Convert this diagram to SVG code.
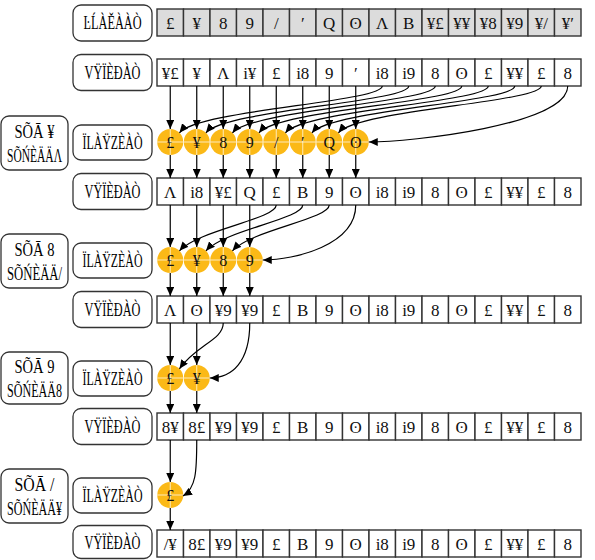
<svg xmlns="http://www.w3.org/2000/svg" width="595" height="560" viewBox="0 0 595 560">
<defs>
<marker id="ah" markerWidth="9" markerHeight="8" refX="9" refY="4" orient="auto" markerUnits="userSpaceOnUse"><path d="M0,0 L9,4 L0,8 Z" fill="#000"/></marker>
<style>
.cell{fill:#fff;stroke:#333;stroke-width:1.4}
.hcell{fill:#dcdcdc;stroke:#333;stroke-width:1.4}
.lbl{fill:#fff;stroke:#333;stroke-width:1.3}
.ct{font-family:"Liberation Serif","DejaVu Serif",serif;font-size:17px;text-anchor:middle;fill:#111}
.lt{font-family:"Liberation Serif","DejaVu Serif",serif;font-size:18px;text-anchor:middle;fill:#000}
.thr{fill:#FBB917}
.cross{stroke:#fff;stroke-opacity:0.7;stroke-width:1}
.tt{font-family:"Liberation Serif","DejaVu Serif",serif;font-size:16px;text-anchor:middle;fill:#111}
.ar{fill:none;stroke:#000;stroke-width:1.2;marker-end:url(#ah)}
</style>
</defs>

<!-- Index row -->
<g id="label-index"><rect class="lbl" x="73" y="5" width="79" height="36" rx="8"/><text class="lt" x="112.5" y="29" textLength="58" lengthAdjust="spacingAndGlyphs">ĿĹÀĚÀÀÒ</text></g>
<g id="row-index">
<rect class="hcell" x="157" y="9" width="26.5" height="27"/><rect class="hcell" x="183.5" y="9" width="26.5" height="27"/><rect class="hcell" x="210" y="9" width="26.5" height="27"/><rect class="hcell" x="236.5" y="9" width="26.5" height="27"/><rect class="hcell" x="263" y="9" width="26.5" height="27"/><rect class="hcell" x="289.5" y="9" width="26.5" height="27"/><rect class="hcell" x="316" y="9" width="26.5" height="27"/><rect class="hcell" x="342.5" y="9" width="26.5" height="27"/><rect class="hcell" x="369" y="9" width="26.5" height="27"/><rect class="hcell" x="395.5" y="9" width="26.5" height="27"/><rect class="hcell" x="422" y="9" width="26.5" height="27"/><rect class="hcell" x="448.5" y="9" width="26.5" height="27"/><rect class="hcell" x="475" y="9" width="26.5" height="27"/><rect class="hcell" x="501.5" y="9" width="26.5" height="27"/><rect class="hcell" x="528" y="9" width="26.5" height="27"/><rect class="hcell" x="554.5" y="9" width="26.5" height="27"/>
<text class="ct" x="170.25" y="28.5">£</text><text class="ct" x="196.75" y="28.5">¥</text><text class="ct" x="223.25" y="28.5">8</text><text class="ct" x="249.75" y="28.5">9</text><text class="ct" x="276.25" y="28.5">/</text><text class="ct" x="302.75" y="28.5">′</text><text class="ct" x="329.25" y="28.5">Q</text><text class="ct" x="355.75" y="28.5">ʘ</text><text class="ct" x="382.25" y="28.5">Λ</text><text class="ct" x="408.75" y="28.5">B</text><text class="ct" x="435.25" y="28.5">¥£</text><text class="ct" x="461.75" y="28.5">¥¥</text><text class="ct" x="488.25" y="28.5">¥8</text><text class="ct" x="514.75" y="28.5">¥9</text><text class="ct" x="541.25" y="28.5">¥/</text><text class="ct" x="567.75" y="28.5">¥′</text>
</g>

<!-- Values row 1 -->
<g id="label-values1"><rect class="lbl" x="73" y="54.5" width="79" height="36" rx="8"/><text class="lt" x="112.5" y="79" textLength="56" lengthAdjust="spacingAndGlyphs">VŸÏÈÐÀÒ</text></g>
<g id="row-values1">
<rect class="cell" x="157" y="59" width="26.5" height="27"/><rect class="cell" x="183.5" y="59" width="26.5" height="27"/><rect class="cell" x="210" y="59" width="26.5" height="27"/><rect class="cell" x="236.5" y="59" width="26.5" height="27"/><rect class="cell" x="263" y="59" width="26.5" height="27"/><rect class="cell" x="289.5" y="59" width="26.5" height="27"/><rect class="cell" x="316" y="59" width="26.5" height="27"/><rect class="cell" x="342.5" y="59" width="26.5" height="27"/><rect class="cell" x="369" y="59" width="26.5" height="27"/><rect class="cell" x="395.5" y="59" width="26.5" height="27"/><rect class="cell" x="422" y="59" width="26.5" height="27"/><rect class="cell" x="448.5" y="59" width="26.5" height="27"/><rect class="cell" x="475" y="59" width="26.5" height="27"/><rect class="cell" x="501.5" y="59" width="26.5" height="27"/><rect class="cell" x="528" y="59" width="26.5" height="27"/><rect class="cell" x="554.5" y="59" width="26.5" height="27"/>
<text class="ct" x="170.25" y="78.5">¥£</text><text class="ct" x="196.75" y="78.5">¥</text><text class="ct" x="223.25" y="78.5">Λ</text><text class="ct" x="249.75" y="78.5">i¥</text><text class="ct" x="276.25" y="78.5">£</text><text class="ct" x="302.75" y="78.5">i8</text><text class="ct" x="329.25" y="78.5">9</text><text class="ct" x="355.75" y="78.5">′</text><text class="ct" x="382.25" y="78.5">i8</text><text class="ct" x="408.75" y="78.5">i9</text><text class="ct" x="435.25" y="78.5">8</text><text class="ct" x="461.75" y="78.5">ʘ</text><text class="ct" x="488.25" y="78.5">£</text><text class="ct" x="514.75" y="78.5">¥¥</text><text class="ct" x="541.25" y="78.5">£</text><text class="ct" x="567.75" y="78.5">8</text>
</g>

<!-- Step 1 -->
<g id="step1"><rect class="lbl" x="1" y="116" width="67" height="54" rx="8"/><text class="lt" x="34.5" y="138" textLength="40" lengthAdjust="spacingAndGlyphs">SÕĀ ¥</text><text class="lt" x="34.5" y="162" textLength="55" lengthAdjust="spacingAndGlyphs">SÕŃÈÄÄΛ</text></g>
<g id="label-threads1"><rect class="lbl" x="73" y="125" width="79" height="35" rx="8"/><text class="lt" x="112.5" y="148.5" textLength="60" lengthAdjust="spacingAndGlyphs">ÏLÀŸZÈÀÒ</text></g>
<g id="threads1">
<circle class="thr" cx="170.25" cy="142" r="13"/><circle class="thr" cx="196.75" cy="142" r="13"/><circle class="thr" cx="223.25" cy="142" r="13"/><circle class="thr" cx="249.75" cy="142" r="13"/><circle class="thr" cx="276.25" cy="142" r="13"/><circle class="thr" cx="302.75" cy="142" r="13"/><circle class="thr" cx="329.25" cy="142" r="13"/><circle class="thr" cx="355.75" cy="142" r="13"/>
<path class="cross" d="M157.25 142H368.75M170.25 129V155M196.75 129V155M223.25 129V155M249.75 129V155M276.25 129V155M302.75 129V155M329.25 129V155M355.75 129V155"/>
<text class="tt" x="170.25" y="147.5">£</text><text class="tt" x="196.75" y="147.5">¥</text><text class="tt" x="223.25" y="147.5">8</text><text class="tt" x="249.75" y="147.5">9</text><text class="tt" x="276.25" y="147.5">/</text><text class="tt" x="302.75" y="147.5">′</text><text class="tt" x="329.25" y="147.5">Q</text><text class="tt" x="355.75" y="147.5">ʘ</text>
</g>

<!-- Values row 2 -->
<g id="label-values2"><rect class="lbl" x="73" y="173.5" width="79" height="36" rx="8"/><text class="lt" x="112.5" y="198" textLength="56" lengthAdjust="spacingAndGlyphs">VŸÏÈÐÀÒ</text></g>
<g id="row-values2">
<rect class="cell" x="157" y="178" width="26.5" height="27"/><rect class="cell" x="183.5" y="178" width="26.5" height="27"/><rect class="cell" x="210" y="178" width="26.5" height="27"/><rect class="cell" x="236.5" y="178" width="26.5" height="27"/><rect class="cell" x="263" y="178" width="26.5" height="27"/><rect class="cell" x="289.5" y="178" width="26.5" height="27"/><rect class="cell" x="316" y="178" width="26.5" height="27"/><rect class="cell" x="342.5" y="178" width="26.5" height="27"/><rect class="cell" x="369" y="178" width="26.5" height="27"/><rect class="cell" x="395.5" y="178" width="26.5" height="27"/><rect class="cell" x="422" y="178" width="26.5" height="27"/><rect class="cell" x="448.5" y="178" width="26.5" height="27"/><rect class="cell" x="475" y="178" width="26.5" height="27"/><rect class="cell" x="501.5" y="178" width="26.5" height="27"/><rect class="cell" x="528" y="178" width="26.5" height="27"/><rect class="cell" x="554.5" y="178" width="26.5" height="27"/>
<text class="ct" x="170.25" y="197.5">Λ</text><text class="ct" x="196.75" y="197.5">i8</text><text class="ct" x="223.25" y="197.5">¥£</text><text class="ct" x="249.75" y="197.5">Q</text><text class="ct" x="276.25" y="197.5">£</text><text class="ct" x="302.75" y="197.5">B</text><text class="ct" x="329.25" y="197.5">9</text><text class="ct" x="355.75" y="197.5">ʘ</text><text class="ct" x="382.25" y="197.5">i8</text><text class="ct" x="408.75" y="197.5">i9</text><text class="ct" x="435.25" y="197.5">8</text><text class="ct" x="461.75" y="197.5">ʘ</text><text class="ct" x="488.25" y="197.5">£</text><text class="ct" x="514.75" y="197.5">¥¥</text><text class="ct" x="541.25" y="197.5">£</text><text class="ct" x="567.75" y="197.5">8</text>
</g>

<!-- Step 2 -->
<g id="step2"><rect class="lbl" x="1" y="234" width="67" height="54" rx="8"/><text class="lt" x="34.5" y="256" textLength="40" lengthAdjust="spacingAndGlyphs">SÕĀ 8</text><text class="lt" x="34.5" y="280" textLength="55" lengthAdjust="spacingAndGlyphs">SÕŃÈÄÄ/</text></g>
<g id="label-threads2"><rect class="lbl" x="73" y="243" width="79" height="35" rx="8"/><text class="lt" x="112.5" y="266.5" textLength="60" lengthAdjust="spacingAndGlyphs">ÏLÀŸZÈÀÒ</text></g>
<g id="threads2">
<circle class="thr" cx="170.25" cy="260" r="13"/><circle class="thr" cx="196.75" cy="260" r="13"/><circle class="thr" cx="223.25" cy="260" r="13"/><circle class="thr" cx="249.75" cy="260" r="13"/>
<path class="cross" d="M157.25 260H262.75M170.25 247V273M196.75 247V273M223.25 247V273M249.75 247V273"/>
<text class="tt" x="170.25" y="265.5">£</text><text class="tt" x="196.75" y="265.5">¥</text><text class="tt" x="223.25" y="265.5">8</text><text class="tt" x="249.75" y="265.5">9</text>
</g>

<!-- Values row 3 -->
<g id="label-values3"><rect class="lbl" x="73" y="291.5" width="79" height="36" rx="8"/><text class="lt" x="112.5" y="316" textLength="56" lengthAdjust="spacingAndGlyphs">VŸÏÈÐÀÒ</text></g>
<g id="row-values3">
<rect class="cell" x="157" y="296" width="26.5" height="27"/><rect class="cell" x="183.5" y="296" width="26.5" height="27"/><rect class="cell" x="210" y="296" width="26.5" height="27"/><rect class="cell" x="236.5" y="296" width="26.5" height="27"/><rect class="cell" x="263" y="296" width="26.5" height="27"/><rect class="cell" x="289.5" y="296" width="26.5" height="27"/><rect class="cell" x="316" y="296" width="26.5" height="27"/><rect class="cell" x="342.5" y="296" width="26.5" height="27"/><rect class="cell" x="369" y="296" width="26.5" height="27"/><rect class="cell" x="395.5" y="296" width="26.5" height="27"/><rect class="cell" x="422" y="296" width="26.5" height="27"/><rect class="cell" x="448.5" y="296" width="26.5" height="27"/><rect class="cell" x="475" y="296" width="26.5" height="27"/><rect class="cell" x="501.5" y="296" width="26.5" height="27"/><rect class="cell" x="528" y="296" width="26.5" height="27"/><rect class="cell" x="554.5" y="296" width="26.5" height="27"/>
<text class="ct" x="170.25" y="315.5">Λ</text><text class="ct" x="196.75" y="315.5">ʘ</text><text class="ct" x="223.25" y="315.5">¥9</text><text class="ct" x="249.75" y="315.5">¥9</text><text class="ct" x="276.25" y="315.5">£</text><text class="ct" x="302.75" y="315.5">B</text><text class="ct" x="329.25" y="315.5">9</text><text class="ct" x="355.75" y="315.5">ʘ</text><text class="ct" x="382.25" y="315.5">i8</text><text class="ct" x="408.75" y="315.5">i9</text><text class="ct" x="435.25" y="315.5">8</text><text class="ct" x="461.75" y="315.5">ʘ</text><text class="ct" x="488.25" y="315.5">£</text><text class="ct" x="514.75" y="315.5">¥¥</text><text class="ct" x="541.25" y="315.5">£</text><text class="ct" x="567.75" y="315.5">8</text>
</g>

<!-- Step 3 -->
<g id="step3"><rect class="lbl" x="1" y="352" width="67" height="52" rx="8"/><text class="lt" x="34.5" y="373" textLength="40" lengthAdjust="spacingAndGlyphs">SÕĀ 9</text><text class="lt" x="34.5" y="397" textLength="55" lengthAdjust="spacingAndGlyphs">SÕŃÈÄÄ8</text></g>
<g id="label-threads3"><rect class="lbl" x="73" y="361" width="79" height="35" rx="8"/><text class="lt" x="112.5" y="384.5" textLength="60" lengthAdjust="spacingAndGlyphs">ÏLÀŸZÈÀÒ</text></g>
<g id="threads3">
<circle class="thr" cx="170.25" cy="378" r="13"/><circle class="thr" cx="196.75" cy="378" r="13"/>
<path class="cross" d="M157.25 378H209.75M170.25 365V391M196.75 365V391"/>
<text class="tt" x="170.25" y="383.5">£</text><text class="tt" x="196.75" y="383.5">¥</text>
</g>

<!-- Values row 4 -->
<g id="label-values4"><rect class="lbl" x="73" y="408.5" width="79" height="36" rx="8"/><text class="lt" x="112.5" y="433" textLength="56" lengthAdjust="spacingAndGlyphs">VŸÏÈÐÀÒ</text></g>
<g id="row-values4">
<rect class="cell" x="157" y="413" width="26.5" height="27"/><rect class="cell" x="183.5" y="413" width="26.5" height="27"/><rect class="cell" x="210" y="413" width="26.5" height="27"/><rect class="cell" x="236.5" y="413" width="26.5" height="27"/><rect class="cell" x="263" y="413" width="26.5" height="27"/><rect class="cell" x="289.5" y="413" width="26.5" height="27"/><rect class="cell" x="316" y="413" width="26.5" height="27"/><rect class="cell" x="342.5" y="413" width="26.5" height="27"/><rect class="cell" x="369" y="413" width="26.5" height="27"/><rect class="cell" x="395.5" y="413" width="26.5" height="27"/><rect class="cell" x="422" y="413" width="26.5" height="27"/><rect class="cell" x="448.5" y="413" width="26.5" height="27"/><rect class="cell" x="475" y="413" width="26.5" height="27"/><rect class="cell" x="501.5" y="413" width="26.5" height="27"/><rect class="cell" x="528" y="413" width="26.5" height="27"/><rect class="cell" x="554.5" y="413" width="26.5" height="27"/>
<text class="ct" x="170.25" y="432.5">8¥</text><text class="ct" x="196.75" y="432.5">8£</text><text class="ct" x="223.25" y="432.5">¥9</text><text class="ct" x="249.75" y="432.5">¥9</text><text class="ct" x="276.25" y="432.5">£</text><text class="ct" x="302.75" y="432.5">B</text><text class="ct" x="329.25" y="432.5">9</text><text class="ct" x="355.75" y="432.5">ʘ</text><text class="ct" x="382.25" y="432.5">i8</text><text class="ct" x="408.75" y="432.5">i9</text><text class="ct" x="435.25" y="432.5">8</text><text class="ct" x="461.75" y="432.5">ʘ</text><text class="ct" x="488.25" y="432.5">£</text><text class="ct" x="514.75" y="432.5">¥¥</text><text class="ct" x="541.25" y="432.5">£</text><text class="ct" x="567.75" y="432.5">8</text>
</g>

<!-- Step 4 -->
<g id="step4"><rect class="lbl" x="1" y="469" width="67" height="54" rx="8"/><text class="lt" x="34.5" y="491" textLength="40" lengthAdjust="spacingAndGlyphs">SÕĀ /</text><text class="lt" x="34.5" y="515" textLength="55" lengthAdjust="spacingAndGlyphs">SÕŃÈÄÄ¥</text></g>
<g id="label-threads4"><rect class="lbl" x="73" y="478" width="79" height="35" rx="8"/><text class="lt" x="112.5" y="501.5" textLength="60" lengthAdjust="spacingAndGlyphs">ÏLÀŸZÈÀÒ</text></g>
<g id="threads4">
<circle class="thr" cx="170.25" cy="495" r="13"/>
<path class="cross" d="M157.25 495H183.25M170.25 482V508"/>
<text class="tt" x="170.25" y="500.5">£</text>
</g>

<!-- Values row 5 -->
<g id="label-values5"><rect class="lbl" x="73" y="525.5" width="79" height="33" rx="8"/><text class="lt" x="112.5" y="549" textLength="56" lengthAdjust="spacingAndGlyphs">VŸÏÈÐÀÒ</text></g>
<g id="row-values5">
<rect class="cell" x="157" y="530" width="26.5" height="27"/><rect class="cell" x="183.5" y="530" width="26.5" height="27"/><rect class="cell" x="210" y="530" width="26.5" height="27"/><rect class="cell" x="236.5" y="530" width="26.5" height="27"/><rect class="cell" x="263" y="530" width="26.5" height="27"/><rect class="cell" x="289.5" y="530" width="26.5" height="27"/><rect class="cell" x="316" y="530" width="26.5" height="27"/><rect class="cell" x="342.5" y="530" width="26.5" height="27"/><rect class="cell" x="369" y="530" width="26.5" height="27"/><rect class="cell" x="395.5" y="530" width="26.5" height="27"/><rect class="cell" x="422" y="530" width="26.5" height="27"/><rect class="cell" x="448.5" y="530" width="26.5" height="27"/><rect class="cell" x="475" y="530" width="26.5" height="27"/><rect class="cell" x="501.5" y="530" width="26.5" height="27"/><rect class="cell" x="528" y="530" width="26.5" height="27"/><rect class="cell" x="554.5" y="530" width="26.5" height="27"/>
<text class="ct" x="170.25" y="549.5">/¥</text><text class="ct" x="196.75" y="549.5">8£</text><text class="ct" x="223.25" y="549.5">¥9</text><text class="ct" x="249.75" y="549.5">¥9</text><text class="ct" x="276.25" y="549.5">£</text><text class="ct" x="302.75" y="549.5">B</text><text class="ct" x="329.25" y="549.5">9</text><text class="ct" x="355.75" y="549.5">ʘ</text><text class="ct" x="382.25" y="549.5">i8</text><text class="ct" x="408.75" y="549.5">i9</text><text class="ct" x="435.25" y="549.5">8</text><text class="ct" x="461.75" y="549.5">ʘ</text><text class="ct" x="488.25" y="549.5">£</text><text class="ct" x="514.75" y="549.5">¥¥</text><text class="ct" x="541.25" y="549.5">£</text><text class="ct" x="567.75" y="549.5">8</text>
</g>

<!-- Connectors -->
<g id="connectors">
<path class="ar" d="M170.25 86V129"/><path class="ar" d="M196.75 86V129"/><path class="ar" d="M223.25 86V129"/><path class="ar" d="M249.75 86V129"/><path class="ar" d="M276.25 86V129"/><path class="ar" d="M302.75 86V129"/><path class="ar" d="M329.25 86V129"/><path class="ar" d="M355.75 86V129"/>
<path class="ar" d="M382.25 86C382.25 102 198.25 110 179.45 132.8"/>
<path class="ar" d="M408.75 86C408.75 102 224.75 110 205.95 132.8"/>
<path class="ar" d="M435.25 86C435.25 102 251.25 110 232.45 132.8"/>
<path class="ar" d="M461.75 86C461.75 102 277.75 110 258.95 132.8"/>
<path class="ar" d="M488.25 86C488.25 102 304.25 110 285.45 132.8"/>
<path class="ar" d="M514.75 86C514.75 102 330.75 110 311.95 132.8"/>
<path class="ar" d="M541.25 86C541.25 102 357.25 110 338.45 132.8"/>
<path class="ar" d="M567.75 86C567.75 125 410 142 368.75 142"/>
<path class="ar" d="M170.25 155V178"/><path class="ar" d="M196.75 155V178"/><path class="ar" d="M223.25 155V178"/><path class="ar" d="M249.75 155V178"/><path class="ar" d="M276.25 155V178"/><path class="ar" d="M302.75 155V178"/><path class="ar" d="M329.25 155V178"/><path class="ar" d="M355.75 155V178"/>

<path class="ar" d="M170.25 205V247"/><path class="ar" d="M196.75 205V247"/><path class="ar" d="M223.25 205V247"/><path class="ar" d="M249.75 205V247"/>
<path class="ar" d="M276.25 205C276.25 219 198.25 230 179.45 250.8"/>
<path class="ar" d="M302.75 205C302.75 219 224.75 230 205.95 250.8"/>
<path class="ar" d="M329.25 205C329.25 219 251.25 230 232.45 250.8"/>
<path class="ar" d="M355.75 205C355.75 245 295 260 262.75 260"/>
<path class="ar" d="M170.25 273V296"/><path class="ar" d="M196.75 273V296"/><path class="ar" d="M223.25 273V296"/><path class="ar" d="M249.75 273V296"/>

<path class="ar" d="M170.25 323V365"/><path class="ar" d="M196.75 323V365"/>
<path class="ar" d="M223.25 323C223.25 340 196 345 179.45 368.8"/>
<path class="ar" d="M249.75 323C249.75 362 232 378 209.75 378"/>
<path class="ar" d="M170.25 391V413"/><path class="ar" d="M196.75 391V413"/>

<path class="ar" d="M170.25 440V482"/>
<path class="ar" d="M196.75 440C196.75 472 196 488 183 496"/>
<path class="ar" d="M170.25 508V530"/>
</g>
</svg>
